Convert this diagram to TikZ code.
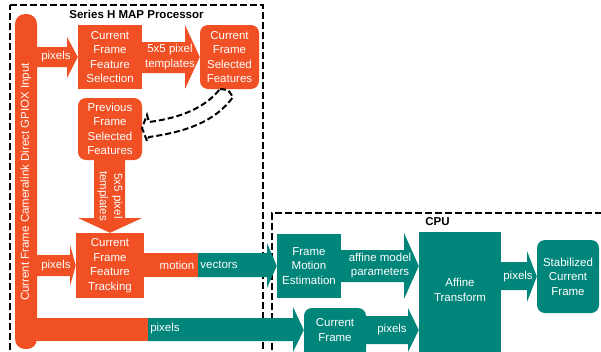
\documentclass[tikz,border=0pt]{standalone}
\usepackage{fontspec}
\setmainfont{Liberation Sans}
\definecolor{org}{RGB}{241,80,36}
\definecolor{tl}{RGB}{0,133,122}
\begin{document}
\begin{tikzpicture}[x=1pt,y=-1pt,
  font=\fontsize{11.5}{14.5}\selectfont,
  lbl/.style={text=white,align=center,inner sep=0pt},
  obox/.style={fill=org,text=white,align=center,inner sep=0pt},
  tbox/.style={fill=tl,text=white,align=center,inner sep=0pt},
  rbox/.style={rounded corners=8pt},
  grp/.style={draw=black,line width=2.5pt,dash pattern=on 7pt off 3pt},
  ttl/.style={font=\fontsize{11.5}{14}\selectfont\bfseries,text=black,inner sep=0pt}]
\useasboundingbox (0,0) rectangle (601,351);

% group boxes
\draw[grp] (10,5) -- (263,5) -- (263,360);
\draw[grp] (10,360) -- (10,5);
\draw[grp] (272,360) -- (272,213) -- (610,213);
\node[ttl] (t1) at (136.5,14) {Series H MAP Processor};
\node[ttl] (t2) at (437.5,222) {CPU};

% input bar
\fill[org,rounded corners=10pt] (15,14) rectangle (37,349);
\node[lbl,rotate=90] (inlbl) at (26,182) {Current Frame Cameralink Direct GPIOX Input};

% boxes
\node[obox,minimum width=64pt,minimum height=64pt] (cffs) at (110,57) {Current\\Frame\\Feature\\Selection};
\node[obox,rbox,minimum width=59pt,minimum height=64pt] (cfsf) at (229.5,57) {Current\\Frame\\Selected\\Features};
\node[obox,rbox,minimum width=64pt,minimum height=62pt] (pfsf) at (110,129) {Previous\\Frame\\Selected\\Features};
\node[obox,minimum width=68pt,minimum height=65pt] (cfft) at (110,265.5) {Current\\Frame\\Feature\\Tracking};
\node[tbox,minimum width=64pt,minimum height=64pt] (fme) at (309,266) {Frame\\Motion\\Estimation};
\node[tbox,minimum width=82pt,minimum height=128pt] (at) at (460,296) {};
\node[lbl] (atl) at (460,290) {Affine\\Transform};
\node[tbox,rbox,minimum width=62pt,minimum height=73pt] (scf) at (568,276.5) {Stabilized\\Current\\Frame};
\node[tbox,rbox,minimum width=62pt,minimum height=60pt] (cf) at (335,338) {};
\node[lbl] (cfl) at (335,330) {Current\\Frame};

% block arrows
\fill[org] (36,47) -- (67,47) -- (67,37) -- (cffs.west) -- (67,78) -- (67,67) -- (36,67) -- cycle;
\node[lbl] (a1) at (56,57) {pixels};

\fill[org] (cffs.east |- 0,42) -- (185,42) -- (185,25) -- (cfsf.west) -- (185,89) -- (185,73) -- (cffs.east |- 0,73) -- cycle;
\node[lbl] (a2) at (170,57) {5x5 pixel\\templates};

\fill[org] (94,159) -- (125,159) -- (125,218) -- (142,218) -- (cfft.north) -- (78,218) -- (94,218) -- cycle;
\node[lbl,rotate=-90] (a3) at (110,196) {5x5 pixel\\templates};

\fill[org] (36,255) -- (70,255) -- (70,245) -- (cfft.west) -- (70,286) -- (70,276) -- (36,276) -- cycle;
\node[lbl] (a4) at (56,265.5) {pixels};

\fill[org] (143,253) rectangle (198,277);
\fill[tl] (198,253) -- (267,253) -- (267,243) -- (fme.west) -- (267,288) -- (267,277) -- (198,277) -- cycle;
\node[lbl] (a5a) at (177,265) {motion};
\node[lbl] (a5b) at (219,265) {vectors};

\fill[tl] (340,250) -- (404,250) -- (404,233) -- (at.west |- fme.west) -- (404,299) -- (404,282) -- (340,282) -- cycle;
\node[lbl] (a6) at (380,265.5) {affine model\\parameters};

\fill[tl] (500,262) -- (527,262) -- (527,251) -- (scf.west) -- (527,302) -- (527,290) -- (500,290) -- cycle;
\node[lbl] (a7) at (518,277) {pixels};

\fill[org] (30,318) rectangle (148,341);
\fill[tl] (148,318) -- (293,318) -- (293,307) -- (cf.west |- cfl) -- (293,352) -- (293,341) -- (148,341) -- cycle;
\node[lbl] (a8) at (165,329) {pixels};

\fill[tl] (365,316) -- (408,316) -- (408,308) -- (at.west |- cfl) -- (408,352) -- (408,344) -- (365,344) -- cycle;
\node[lbl] (a9) at (392,330) {pixels};

% dashed curved outline arrow
\draw[black,line width=2pt,dash pattern=on 6pt off 3pt,line join=miter]
  (220,89) -- (228,90) -- (233,97)
  .. controls (215,122) and (185,132) .. (149,137)
  -- (147,141) -- (142,128) -- (147,115) -- (149,122)
  .. controls (180,118) and (205,108) .. cycle;
\end{tikzpicture}
\end{document}
